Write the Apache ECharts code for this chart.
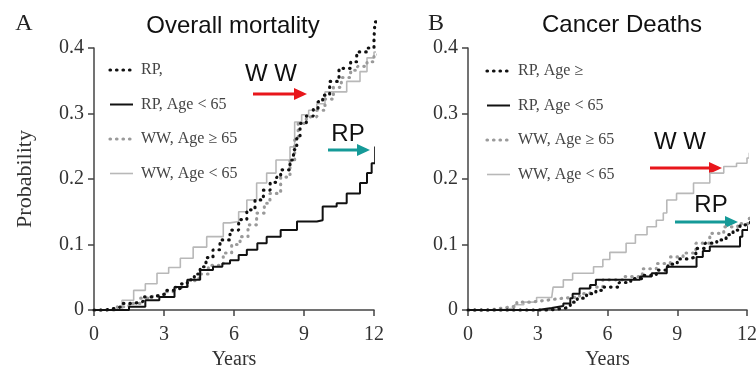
<!DOCTYPE html>
<html><head><meta charset="utf-8">
<script src="https://cdn.jsdelivr.net/npm/echarts@6/dist/echarts.min.js"></script>
<style>html,body{margin:0;padding:0;background:#fff}#c{width:756px;height:369px}</style>
</head><body><div id="c"></div>
<script>
// ---- Data (years, cumulative probability) ----
const xTicks = [0, 3, 6, 9, 12];
const yTicks = [0, 0.1, 0.2, 0.3, 0.4];
const panelTitles = ["Overall mortality", "Cancer Deaths"];
const panelLetters = ["A", "B"];
const legendLeft = ["RP,", "RP, Age < 65", "WW, Age ≥ 65", "WW, Age < 65"];
const legendRight = ["RP, Age ≥", "RP, Age < 65", "WW, Age ≥ 65", "WW, Age < 65"];

// Panel A: overall mortality
const a_rpDotted = [[0,0],[0.5,0.003],[1.0,0.006],[1.25,0.01],[1.7,0.013],[2.1,0.02],[2.5,0.022],[2.8,0.025],[3.1,0.03],[3.4,0.033],[3.7,0.04],[4.0,0.046],[4.3,0.055],[4.55,0.066],[4.8,0.08],[5.1,0.092],[5.4,0.107],[5.83,0.122],[6.2,0.138],[6.55,0.153],[6.9,0.168],[7.26,0.183],[7.55,0.195],[7.83,0.203],[8.0,0.214],[8.4,0.229],[8.55,0.245],[8.69,0.262],[8.83,0.285],[9.1,0.296],[9.4,0.308],[9.6,0.318],[9.8,0.328],[10.1,0.349],[10.5,0.369],[11.0,0.379],[11.26,0.394],[11.7,0.40],[12.0,0.415],[12.04,0.44],[12.25,0.443]];
const a_rpUnder65 = [[0,0],[1.5,0.005],[2.2,0.015],[2.8,0.02],[3.45,0.035],[4.0,0.046],[4.55,0.061],[5.1,0.066],[5.5,0.071],[5.83,0.076],[6.2,0.084],[6.55,0.092],[7.0,0.102],[7.4,0.112],[8.0,0.122],[8.7,0.135],[9.55,0.137],[9.8,0.158],[10.4,0.163],[10.83,0.178],[11.4,0.194],[11.7,0.209],[11.9,0.224],[12.05,0.249],[12.2,0.27]];
const a_wwOver65 = [[0,0],[1.0,0.005],[1.5,0.01],[2.0,0.018],[2.5,0.022],[3.0,0.028],[3.5,0.035],[4.0,0.045],[4.5,0.055],[4.9,0.068],[5.54,0.087],[5.9,0.1],[6.26,0.112],[6.6,0.13],[6.97,0.148],[7.3,0.163],[7.54,0.178],[8.0,0.203],[8.4,0.229],[8.6,0.26],[8.75,0.285],[9.1,0.295],[9.55,0.305],[9.9,0.322],[10.26,0.34],[10.6,0.355],[11.0,0.366],[11.3,0.372],[11.7,0.379],[12.0,0.39],[12.25,0.40]];
const a_wwUnder65 = [[0,0],[1.2,0.015],[1.7,0.03],[2.2,0.04],[2.7,0.056],[3.2,0.065],[3.7,0.079],[4.25,0.096],[4.83,0.112],[5.54,0.133],[5.83,0.135],[6.2,0.15],[6.55,0.168],[6.97,0.194],[7.4,0.209],[7.8,0.229],[8.4,0.249],[8.6,0.287],[8.9,0.298],[9.2,0.305],[9.55,0.315],[9.9,0.333],[10.83,0.349],[11.4,0.364],[11.7,0.385],[12.0,0.394],[12.25,0.41]];

// Panel B: cancer deaths
const b_rpDotted = [[0,0],[3.0,0],[3.5,0.003],[4.2,0.005],[4.4,0.012],[4.7,0.018],[5.1,0.025],[5.5,0.03],[5.8,0.035],[6.5,0.042],[7.0,0.048],[7.5,0.053],[8.1,0.061],[8.6,0.07],[9.0,0.078],[9.5,0.081],[9.8,0.094],[10.2,0.102],[10.7,0.107],[11.1,0.115],[11.4,0.122],[11.7,0.13],[12.0,0.132],[12.15,0.137]];
const b_rpUnder65 = [[0,0],[3.0,0.003],[3.6,0.006],[4.1,0.01],[4.4,0.018],[4.5,0.025],[4.8,0.033],[5.25,0.038],[5.5,0.046],[6.8,0.046],[7.4,0.051],[7.9,0.056],[8.55,0.066],[9.7,0.066],[9.83,0.081],[10.1,0.09],[10.4,0.097],[11.1,0.097],[11.7,0.112],[11.8,0.122],[12.05,0.127],[12.1,0.132]];
const b_wwOver65 = [[0,0],[0.95,0.003],[1.5,0.006],[2.1,0.012],[2.67,0.015],[3.4,0.018],[4.1,0.02],[4.8,0.025],[5.25,0.035],[5.8,0.046],[6.67,0.051],[7.5,0.063],[8.1,0.071],[8.7,0.081],[9.25,0.087],[9.8,0.102],[10.4,0.117],[11.0,0.127],[11.6,0.132],[12.1,0.14]];
const b_wwUnder65 = [[0,0],[1.4,0.003],[2.0,0.008],[2.4,0.012],[2.95,0.019],[3.6,0.02],[3.66,0.035],[4.1,0.046],[4.5,0.056],[5.4,0.066],[5.8,0.077],[6.1,0.088],[6.8,0.102],[7.2,0.115],[7.7,0.127],[8.1,0.137],[8.4,0.148],[8.55,0.168],[8.97,0.178],[9.7,0.194],[10.4,0.209],[11.0,0.219],[11.55,0.224],[12.0,0.232],[12.1,0.24]];

// ---- Styles ----
const serif = "'Liberation Serif','Times New Roman',serif";
const sans = "'Liberation Sans',Arial,sans-serif";
const axisCol = '#444';
const styles = [
  {color:'#111', width:3.2, type:[0.5,6], cap:'round'},
  {color:'#111', width:2, type:'solid', cap:'butt'},
  {color:'#9a9a9a', width:3.2, type:[0.5,6], cap:'round'},
  {color:'#b8b8b8', width:1.6, type:'solid', cap:'butt'}
];
function mkSeries(names, datas, idx){
  return datas.map((d,i)=>({
    type:'line', name:names[i], xAxisIndex:idx, yAxisIndex:idx, data:d,
    step:'end', symbol:'none', clip:false, silent:true, z: 10-i,
    color: styles[i].color,
    lineStyle:{color:styles[i].color, width:styles[i].width, type:styles[i].type, cap:styles[i].cap}
  }));
}
function xAx(idx){
  return {type:'value', gridIndex:idx, min:0, max:12, interval:3,
    name:'Years', nameLocation:'middle', nameGap:40,
    nameTextStyle:{fontFamily:serif, fontSize:20, color:'#333'},
    axisLine:{lineStyle:{color:axisCol, width:1.5}},
    axisTick:{length:6, lineStyle:{color:axisCol, width:1.5}},
    axisLabel:{fontFamily:serif, fontSize:20, color:'#333', margin:15},
    splitLine:{show:false}};
}
function yAx(idx){
  return {type:'value', gridIndex:idx, min:0, max:0.4, interval:0.1,
    name: idx===0 ? 'Probability' : '', nameLocation:'middle', nameGap:58, nameRotate:90,
    nameTextStyle:{fontFamily:serif, fontSize:22, color:'#333'},
    axisLine:{show:true, lineStyle:{color:axisCol, width:1.5}},
    axisTick:{show:true, length:6, lineStyle:{color:axisCol, width:1.5}},
    axisLabel:{fontFamily:serif, fontSize:20, color:'#333', margin:10,
      formatter:v=> v===0 ? '0' : v.toFixed(1)},
    splitLine:{show:false}};
}
function legendGraphic(names, x0, y0){
  const items = [];
  names.forEach((n,i)=>{
    const y = y0 + i*34.5, s = styles[i];
    items.push({type:'line', shape:{x1:x0, y1:y, x2:x0+23, y2:y},
      style:{stroke:s.color, lineWidth:s.width, lineDash: Array.isArray(s.type)? s.type : null, lineCap:s.cap}});
    items.push({type:'text', x:x0+31, y:y, style:{text:n, font:"16px "+serif, fill:'#444', align:'left', verticalAlign:'middle'}});
  });
  return items;
}
function arrow(x1, x2, y, color){
  return {type:'group', children:[
    {type:'line', shape:{x1:x1, y1:y, x2:x2-10, y2:y}, style:{stroke:color, lineWidth:3}},
    {type:'polygon', shape:{points:[[x2-13,y-6],[x2,y],[x2-13,y+6]]}, style:{fill:color}}
  ]};
}
function label(text, x, y, font, color){
  return {type:'text', x:x, y:y, style:{text:text, font:font, fill:color||'#111', align:'center', verticalAlign:'middle'}};
}

const chart = echarts.init(document.getElementById('c'));
chart.setOption({
  animation:false,
  backgroundColor:'#fff',
  grid:[
    {left:94, top:48, width:280, height:262, outerBoundsMode:'none', containLabel:false},
    {left:468, top:48, width:279, height:262, outerBoundsMode:'none', containLabel:false}
  ],
  xAxis:[xAx(0), xAx(1)],
  yAxis:[yAx(0), yAx(1)],
  series:[
    ...mkSeries(legendLeft, [a_rpDotted, a_rpUnder65, a_wwOver65, a_wwUnder65], 0),
    ...mkSeries(legendRight, [b_rpDotted, b_rpUnder65, b_wwOver65, b_wwUnder65], 1)
  ],
  graphic:[
    ...legendGraphic(legendLeft, 110, 70),
    ...legendGraphic(legendRight, 487, 71),
    label(panelLetters[0], 24, 24, "24px "+serif, '#222'),
    label(panelLetters[1], 436, 24, "24px "+serif, '#222'),
    label(panelTitles[0], 233, 26, "24px "+sans, '#111'),
    label(panelTitles[1], 622, 25, "24px "+sans, '#111'),
    label('W W', 271, 74, "24px "+sans, '#111'),
    arrow(253, 307, 94, '#e8161b'),
    label('RP', 348, 134, "24px "+sans, '#111'),
    arrow(328, 370, 150, '#159a98'),
    label('W W', 680, 142, "24px "+sans, '#111'),
    arrow(650, 722, 168, '#e8161b'),
    label('RP', 711, 205, "24px "+sans, '#111'),
    arrow(675, 738, 222, '#159a98')
  ]
});
</script></body></html>
